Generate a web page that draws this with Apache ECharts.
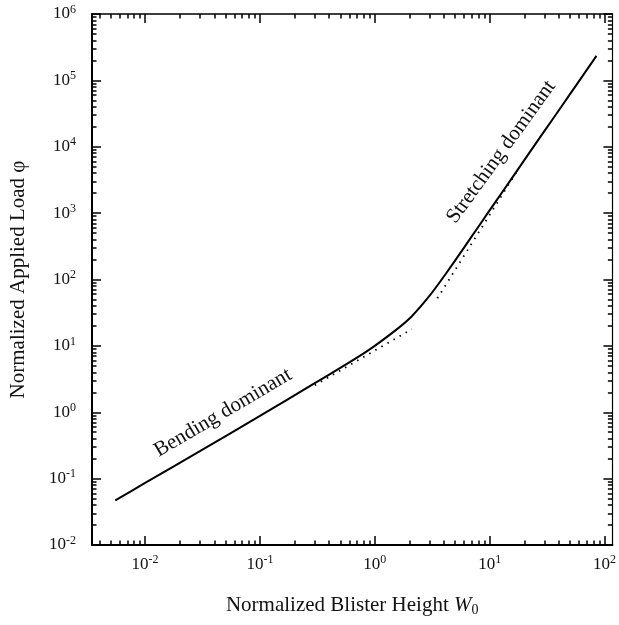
<!DOCTYPE html>
<html>
<head>
<meta charset="utf-8">
<script src="https://cdn.jsdelivr.net/npm/echarts@6/dist/echarts.min.js"></script>
<style>
html,body{margin:0;padding:0;background:#fff;}
#c{width:619px;height:625px;}
</style>
</head>
<body>
<div id="c"></div>
<script>
// ---- data ----
const xMajorTicks = [0.01, 0.1, 1, 10, 100];
const xTickLabels = ['-2', '-1', '0', '1', '2'];
const yMajorTicks = [0.01, 0.1, 1, 10, 100, 1000, 10000, 100000, 1000000];
const yTickLabels = ['-2', '-1', '0', '1', '2', '3', '4', '5', '6'];

// full solution (solid curve)
const curveW   = [0.0055, 0.01, 0.03, 0.1, 0.3, 0.5, 0.8, 1.1, 1.6, 2.1, 3.0, 4.15, 6.0, 8.0, 11.0, 15.3, 21.0, 29.9, 42.0, 57.5, 85.0];
const curvePhi = [0.047, 0.086, 0.26, 0.88, 2.75, 4.65, 7.7, 11.3, 18.5, 28, 57, 122, 305, 630, 1400, 3200, 7100, 17200, 40000, 88000, 234000];

// bending asymptote (dotted)
const bendW   = [0.3, 2.1];
const bendPhi = [2.55, 17.9];

// stretching asymptote (dotted)
const stretchW   = [3.5, 17.0];
const stretchPhi = [52, 4100];

// ---- helpers ----
function minorTicks(lo, hi) {
  const out = [];
  for (let e = -4; e <= 7; e++) {
    for (let m = 2; m <= 9; m++) {
      const v = m * Math.pow(10, e);
      if (v > lo && v < hi) out.push(v);
    }
  }
  return out;
}
const X_MIN = 0.00345, X_MAX = 117;
const Y_MIN = 0.01, Y_MAX = 1000000;
const xMinor = minorTicks(X_MIN, X_MAX);
const yMinor = minorTicks(Y_MIN, Y_MAX);

const FONT = "'Liberation Serif', 'DejaVu Serif', serif";

function powLabel(majors, exps) {
  return function (v) {
    for (let i = 0; i < majors.length; i++) {
      if (Math.abs(Math.log10(v) - Math.log10(majors[i])) < 1e-6) {
        return '{b|10}{s|' + exps[i] + '}';
      }
    }
    return '';
  };
}
const richLab = {
  b: { fontFamily: FONT, fontSize: 17, color: '#111' },
  s: { fontFamily: FONT, fontSize: 12, color: '#111', padding: [0, 0, 9, 0] }
};

function xAx(pos, major, show) {
  return {
    type: 'log', logBase: 10, min: X_MIN, max: X_MAX, position: pos,
    gridIndex: 0,
    axisLine: { show: show, lineStyle: { color: '#000', width: pos === 'bottom' ? 2 : 1.5 } },
    axisTick: { show: true, inside: true, length: major ? 9 : 4.5, customValues: major ? xMajorTicks : xMinor,
      lineStyle: { color: '#000', width: 1.5 } },
    axisLabel: pos === 'bottom' && major ? {
      show: true, customValues: xMajorTicks, margin: 9, formatter: powLabel(xMajorTicks, xTickLabels), rich: richLab
    } : { show: false },
    splitLine: { show: false }, minorTick: { show: false },
    name: pos === 'bottom' && major ? 'Normalized Blister Height {i|W}{sub|0}' : '',
    nameLocation: 'middle', nameGap: 48,
    nameTextStyle: { fontFamily: FONT, fontSize: 21, color: '#111',
      rich: { i: { fontFamily: FONT, fontSize: 21, fontStyle: 'italic', color: '#111' },
              sub: { fontFamily: FONT, fontSize: 14, color: '#111', padding: [10, 0, 0, 0] } } }
  };
}
function yAx(pos, major, show) {
  return {
    type: 'log', logBase: 10, min: Y_MIN, max: Y_MAX, position: pos,
    gridIndex: 0,
    axisLine: { show: show, lineStyle: { color: '#000', width: pos === 'left' ? 2 : 1.2 } },
    axisTick: { show: true, inside: true, length: major ? 9 : 4.5, customValues: major ? yMajorTicks : yMinor,
      lineStyle: { color: '#000', width: 1.5 } },
    axisLabel: pos === 'left' && major ? {
      show: true, customValues: yMajorTicks, margin: 16, formatter: powLabel(yMajorTicks, yTickLabels), rich: richLab
    } : { show: false },
    splitLine: { show: false }, minorTick: { show: false },
    name: pos === 'left' && major ? 'Normalized Applied Load φ' : '',
    nameLocation: 'middle', nameGap: 63,
    nameTextStyle: { fontFamily: FONT, fontSize: 21, color: '#111' }
  };
}

const chart = echarts.init(document.getElementById('c'), null, { renderer: 'canvas' });
chart.setOption({
  backgroundColor: '#fff',
  animation: false,
  grid: { left: 87, right: 6, top: 14, bottom: 80, containLabel: false },
  xAxis: [xAx('bottom', true, true), xAx('bottom', false, false), xAx('top', true, true), xAx('top', false, false)],
  yAxis: [yAx('left', true, true), yAx('left', false, false), yAx('right', true, true), yAx('right', false, false)],
  series: [
    { type: 'line', xAxisIndex: 0, yAxisIndex: 0, showSymbol: false, smooth: 0.2,
      data: curveW.map((w, i) => [w, curvePhi[i]]),
      lineStyle: { color: '#000', width: 2 } },
    { type: 'line', xAxisIndex: 0, yAxisIndex: 0, showSymbol: false,
      data: bendW.map((w, i) => [w, bendPhi[i]]),
      lineStyle: { color: '#000', width: 1.8, type: [1.5, 5.5] } },
    { type: 'line', xAxisIndex: 0, yAxisIndex: 0, showSymbol: false,
      data: stretchW.map((w, i) => [w, stretchPhi[i]]),
      lineStyle: { color: '#000', width: 1.8, type: [1.5, 5.5] } }
  ]
});

// annotations anchored in data coordinates
const bendAnchor = chart.convertToPixel({ xAxisIndex: 0, yAxisIndex: 0 }, [0.0477, 0.98]);
const strAnchor = chart.convertToPixel({ xAxisIndex: 0, yAxisIndex: 0 }, [12.6, 8350]);
chart.setOption({
  graphic: [
    { type: 'text', x: bendAnchor[0], y: bendAnchor[1], rotation: 30.5 * Math.PI / 180,
      style: { text: 'Bending dominant', fontFamily: FONT, fontSize: 21, fill: '#111', align: 'center', verticalAlign: 'middle' } },
    { type: 'text', x: strAnchor[0], y: strAnchor[1], rotation: 54 * Math.PI / 180,
      style: { text: 'Stretching dominant', fontFamily: FONT, fontSize: 21, fill: '#111', align: 'center', verticalAlign: 'middle' } }
  ]
});
</script>
</body>
</html>
